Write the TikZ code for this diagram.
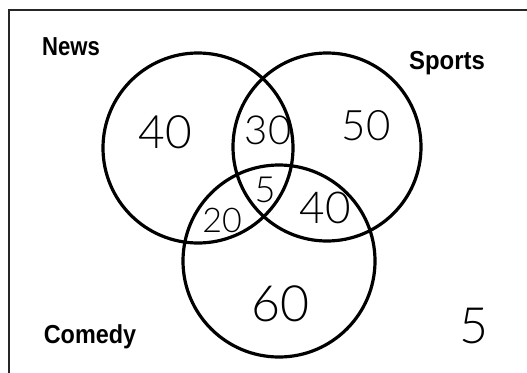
\documentclass[tikz,border=0pt]{standalone}
\usepackage{fontspec}
\setmainfont{Liberation Sans}
\newfontfamily\handfont{Lato Light}
\begin{document}
\begin{tikzpicture}[x=1pt,y=-1pt,
  venn/.style={circle,draw=black,line width=3.2pt,inner sep=0pt},
  setlabel/.style={inner sep=0pt,font=\fontsize{26}{26}\selectfont\bfseries},
  hand/.style={inner sep=0pt,font=\handfont\fontsize{#1}{#1}\selectfont},
  frameline/.style={line width=1.6pt,draw=black!85}]
\useasboundingbox (0,0) rectangle (527,372);
% frame
\coordinate (ftr) at (530,10);
\coordinate (ftl) at (9,10);
\coordinate (fbl) at (9,375);
\draw[frameline] (ftr) -- (ftl) -- (fbl);
% circles
\node[venn,minimum size=190pt] (news) at (198,148) {};
\node[venn,minimum size=188pt] (sports) at (327,147) {};
\node[venn,minimum size=192pt] (comedy) at (279,261) {};
% set labels
\node[setlabel] (newsL) at (71,47) {\scalebox{0.85}[1]{News}};
\node[setlabel] (sportsL) at (447,63) {\scalebox{0.92}[1]{Sports}};
\node[setlabel] (comedyL) at (90,337) {\scalebox{0.9}[1]{Comedy}};
% region counts
\node[hand=46] (n1) at (165,132) {40};
\node[hand=40] (n2) at (268,130) {30};
\node[hand=42] (n3) at (366,126) {50};
\node[hand=36] (n4) at (265,190) {5};
\node[hand=34] (n5) at (222,220) {20};
\node[hand=44] (n6) at (325,208) {40};
\node[hand=50] (n7) at (280,304) {60};
\node[hand=50] (n8) at (474,326) {5};
\end{tikzpicture}
\end{document}
